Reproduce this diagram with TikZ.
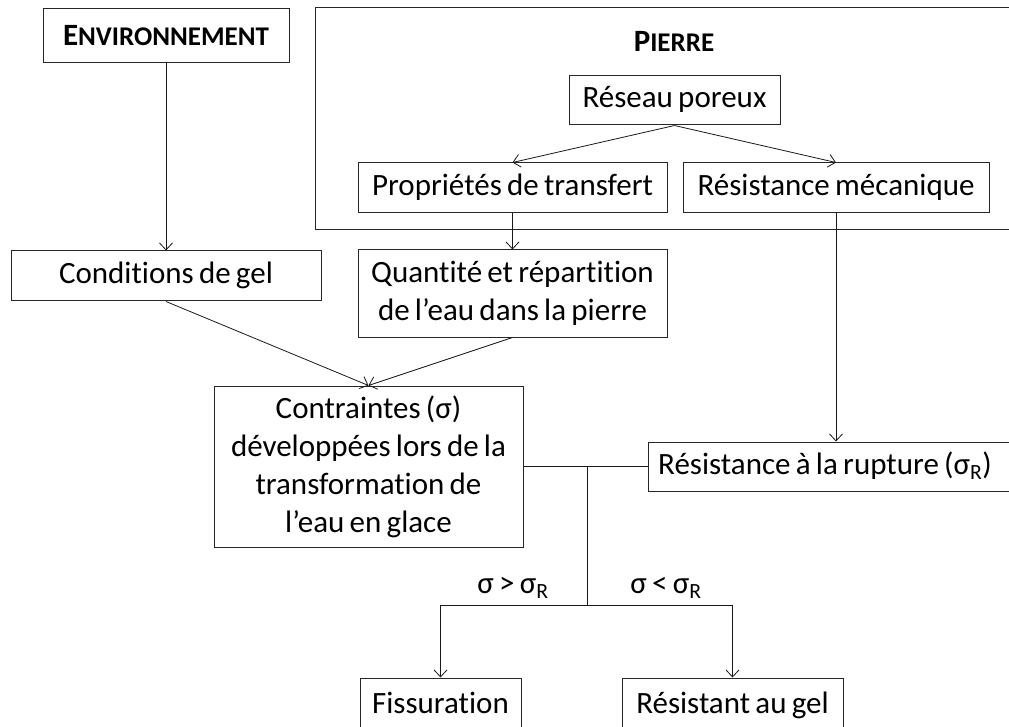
\documentclass[tikz,border=0pt]{standalone}
\usepackage{fontspec}
\setmainfont{Carlito}[WordSpace=0.75,Ligatures=NoCommon]
\usetikzlibrary{arrows.meta}
\newcommand{\fsc}[2]{\textbf{#1{\fontsize{27}{30}\selectfont #2}}}
\begin{document}
\begin{tikzpicture}[x=1pt,y=-1pt,
  box/.style={draw=black!85, line width=1pt, rectangle, inner sep=0pt, align=center,
    font=\fontsize{31}{38}\selectfont},
  onebox/.style={box, text height=22pt, text depth=7pt},
  conn/.style={line width=0.8pt, draw=black!90},
  arr/.style={conn, -{Straight Barb[length=7pt,width=13pt]}},
  lbl/.style={font=\fontsize{31}{38}\selectfont, inner sep=0pt}]
\useasboundingbox (0,0) rectangle (1009,727);
% Pierre frame (open on the right)
\draw[line width=1pt, draw=black!85] (1012,8) -- (315,8) -- (315,230) -- (1012,230);
\node[lbl] (ptitle) at (674,41) {\fsc{P}{IERRE}};
% nodes
\node[box, minimum width=246, minimum height=54] (env) at (166,36) {\fsc{E}{NVIRONNEMENT}};
\node[onebox, minimum width=211, minimum height=49] (res) at (674.5,100.5) {Réseau poreux};
\node[onebox, minimum width=309, minimum height=50] (prop) at (512.5,188) {Propriétés de transfert};
\node[onebox, minimum width=306, minimum height=50] (resm) at (836,188) {Résistance mécanique};
\node[onebox, minimum width=310, minimum height=50] (cond) at (166,276) {Conditions de gel};
\node[box, minimum width=309, minimum height=87] (quant) at (512.5,293.5) {Quantité et répartition\\de l’eau dans la pierre};
\node[box, minimum width=309, minimum height=161] (contr) at (368.5,466.5) {Contraintes (σ)\\développées lors de la\\transformation de\\l’eau en glace};
\node[onebox, minimum width=364, minimum height=49] (rupt) at (830,466.5) {\hspace*{-10pt}Résistance à la rupture (σ\textsubscript{R})};
\node[onebox, minimum width=161, minimum height=56] (fiss) at (440.5,706) {Fissuration};
\node[onebox, minimum width=221, minimum height=56] (resg) at (732.5,706) {Résistant au gel};
\node[lbl] (lgt) at (513,588) {σ > σ\textsubscript{R}};
\node[lbl] (llt) at (666,588) {σ < σ\textsubscript{R}};
% connectors
\draw[arr] (env.south) -- (cond.north);
\draw[arr] (res.south) -- (prop.north);
\draw[arr] (res.south) -- (resm.north);
\draw[arr] (prop.south) -- (quant.north);
\draw[arr] (resm.south) -- (resm.south |- rupt.north);
\draw[arr] (cond.south) -- (contr.north);
\draw[arr] (quant.south) -- (contr.north);
\coordinate (j) at (587,466.5);
\coordinate (s) at (587,605);
\draw[conn] (contr.east) -- (rupt.west);
\draw[conn] (j) -- (s);
\draw[conn] (fiss.north |- s) -- (resg.north |- s);
\draw[arr] (fiss.north |- s) -- (fiss.north);
\draw[arr] (resg.north |- s) -- (resg.north);
\end{tikzpicture}
\end{document}
